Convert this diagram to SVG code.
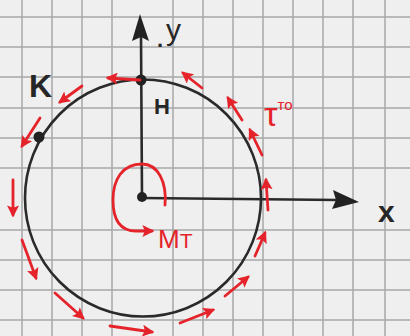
<svg xmlns="http://www.w3.org/2000/svg" width="410" height="336" viewBox="0 0 410 336">
<defs>
<style>
.grid{stroke:#a8a8a8;stroke-width:1.5;fill:none}
.ink{stroke:#2a2a2a;stroke-width:2.6;fill:none;stroke-linecap:round}
.red{stroke:#e5232b;stroke-width:2.8;fill:none;stroke-linecap:round}
.lbl{font-family:"Liberation Sans",Arial,sans-serif;fill:#262626;font-weight:bold}
.rlbl{font-family:"Liberation Sans",Arial,sans-serif;fill:#e5232b}
.dot{fill:#222}
</style>
<marker id="rh" viewBox="0 0 10 10" refX="8" refY="5" markerWidth="12" markerHeight="12" markerUnits="userSpaceOnUse" orient="auto">
<path d="M0,0 L10,5 L0,10 L2,5 Z" fill="#e5232b"/>
</marker>
</defs>
<rect width="410" height="336" fill="#efefef"/>
<g id="grid">
<path class="grid" d="M22,0V336 M52,0V336 M82,0V336 M112,0V336 M173,0V336 M203,0V336 M233,0V336 M263,0V336 M293,0V336 M323,0V336 M353,0V336 M385,0V336 M0,17H410 M0,47H410 M0,77H410 M0,108H410 M0,138H410 M0,168H410 M0,230H410 M0,260H410 M0,290H410 M0,320H410"/>
</g>
<g id="circle"><ellipse class="ink" cx="143" cy="198" rx="118" ry="118.5"/></g>
<g id="y-axis">
<line class="ink" x1="142" y1="197" x2="141" y2="36"/>
<path d="M140,14 L149,41 L141,37 L132,41 Z" fill="#222"/>
<text class="lbl" x="157" y="47" font-size="22">.</text>
<text class="lbl" x="166" y="40" font-size="30" style="font-weight:normal">y</text>
</g>
<g id="x-axis">
<line class="ink" x1="142" y1="198" x2="338" y2="200"/>
<path d="M359,202 L332,209 L336,200 L333,190 Z" fill="#222"/>
<text class="lbl" x="378" y="222" font-size="30">x</text>
</g>
<g id="O"><circle class="dot" cx="142" cy="197" r="5"/></g>
<g id="H"><circle class="dot" cx="141" cy="80" r="5.5"/><text class="lbl" x="154" y="114" font-size="22">H</text></g>
<g id="K"><circle class="dot" cx="39" cy="137" r="5.5"/><text class="lbl" x="29" y="97" font-size="32">K</text></g>
<g id="MT">
<path class="red" d="M165,205 C167,182 158,164 142,164 C122,164 113,180 113,200 C113,220 120,231 136,231 L152,231" marker-end="url(#rh)"/>
<text class="rlbl" x="158" y="248" font-size="26">M<tspan font-size="21">T</tspan></text>
</g>
<g id="tau-label">
<text class="rlbl" x="264" y="126" font-size="34">τ<tspan font-size="15" dy="-16">то</tspan></text>
</g>
<g id="connectors">
<line class="red" x1="140" y1="80" x2="108" y2="78" marker-end="url(#rh)"/>
<line class="red" x1="82" y1="86" x2="60" y2="102" marker-end="url(#rh)"/>
<line class="red" x1="40" y1="118" x2="22" y2="146" marker-end="url(#rh)"/>
<line class="red" x1="13" y1="180" x2="13" y2="215" marker-end="url(#rh)"/>
<line class="red" x1="22" y1="240" x2="36" y2="278" marker-end="url(#rh)"/>
<line class="red" x1="55" y1="293" x2="83" y2="318" marker-end="url(#rh)"/>
<line class="red" x1="110" y1="326" x2="152" y2="332" marker-end="url(#rh)"/>
<line class="red" x1="180" y1="323" x2="213" y2="310" marker-end="url(#rh)"/>
<line class="red" x1="225" y1="296" x2="248" y2="277" marker-end="url(#rh)"/>
<line class="red" x1="255" y1="256" x2="265" y2="233" marker-end="url(#rh)"/>
<line class="red" x1="268" y1="210" x2="266" y2="180" marker-end="url(#rh)"/>
<line class="red" x1="262" y1="155" x2="250" y2="130" marker-end="url(#rh)"/>
<line class="red" x1="242" y1="120" x2="228" y2="98" marker-end="url(#rh)"/>
<line class="red" x1="202" y1="88" x2="183" y2="73" marker-end="url(#rh)"/>
</g>
</svg>
